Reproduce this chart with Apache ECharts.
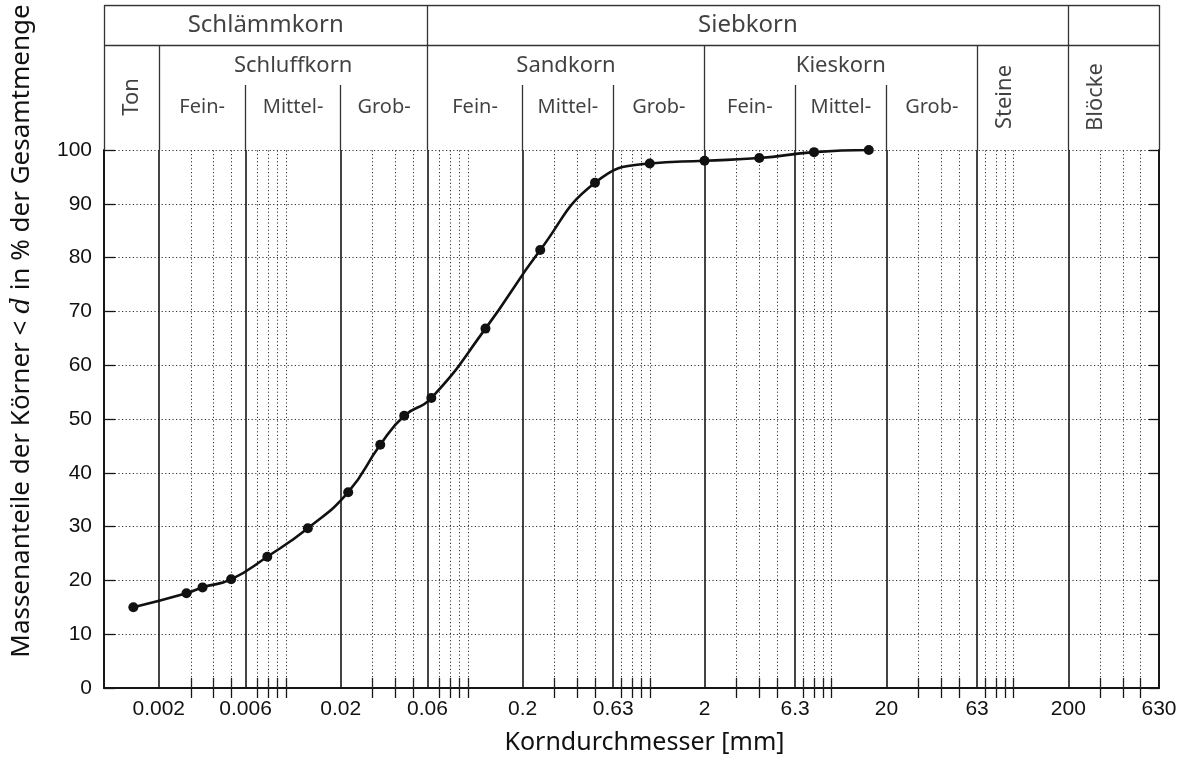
<!DOCTYPE html>
<html>
<head>
<meta charset="utf-8">
<script src="https://cdn.jsdelivr.net/npm/echarts@6/dist/echarts.min.js"></script>
<style>
  html, body { margin: 0; padding: 0; background: #fff; }
  #chart { width: 1191px; height: 762px; }
</style>
</head>
<body>
<div id="chart"></div>
<script>
// Sieve / hydrometer analysis: grain diameter d [mm] and mass passing [%]
const diameters = [0.00145, 0.00284, 0.00348, 0.005, 0.0079, 0.0132, 0.022, 0.033, 0.0447,
                   0.063, 0.125, 0.25, 0.5, 1, 2, 4, 8, 16];
const passing   = [15.0, 17.6, 18.7, 20.2, 24.4, 29.7, 36.4, 45.2, 50.6,
                   53.9, 66.8, 81.4, 93.9, 97.5, 98.0, 98.5, 99.6, 100];

// Axis range and labelled diameters
const dMin = 0.001;
const dMax = 630;
const xTickLabels = [0.002, 0.006, 0.02, 0.06, 0.2, 0.63, 2, 6.3, 20, 63, 200, 630];

// Class boundaries (solid) and intermediate log grid (dotted)
const classBounds = [0.002, 0.006, 0.02, 0.06, 0.2, 0.63, 2, 6.3, 20, 63, 200];
const minorLines = [0.003, 0.004, 0.005, 0.007, 0.008, 0.009, 0.01,
                    0.03, 0.04, 0.05, 0.07, 0.08, 0.09, 0.1,
                    0.3, 0.4, 0.5, 0.7, 0.8, 0.9, 1,
                    3, 4, 5, 7, 8, 9, 10,
                    30, 40, 50, 70, 80, 90, 100,
                    300, 400, 500];

// Header classification (DIN 4022)
const mainGroups = [
  { name: 'Schlämmkorn', from: 0.001, to: 0.06 },
  { name: 'Siebkorn', from: 0.06, to: 200 }
];
const soilGroups = [
  { name: 'Schluffkorn', bounds: [0.002, 0.006, 0.02, 0.06] },
  { name: 'Sandkorn', bounds: [0.06, 0.2, 0.63, 2] },
  { name: 'Kieskorn', bounds: [2, 6.3, 20, 63] }
];
const subNames = ['Fein-', 'Mittel-', 'Grob-'];
const singleClasses = [
  { name: 'Ton', from: 0.001, to: 0.002 },
  { name: 'Steine', from: 63, to: 200 },
  { name: 'Blöcke', from: 200, to: 630 }
];

// Header row levels (header y axis units)
const H_TOP = 29, H_ROW = 21, H_SUB = 13;

const SANS = '"Noto Sans", sans-serif';
const NUM = '"Liberation Sans", Arial, sans-serif';
const INK = '#161616';
const TEXT = '#111';

const geo = (a, b) => Math.sqrt(a * b);
const fmt = v => String(+(+v).toPrecision(4));

// ---- header lines ----
const headerSegs = [];
headerSegs.push([[dMin, H_TOP], [dMax, H_TOP]]);
headerSegs.push([[dMin, H_ROW], [dMax, H_ROW]]);
[dMin, 0.06, 200, dMax].forEach(x => headerSegs.push([[x, 0], [x, H_TOP]]));
[0.002, 2, 63].forEach(x => headerSegs.push([[x, 0], [x, H_ROW]]));
soilGroups.forEach(g => [g.bounds[1], g.bounds[2]].forEach(x => headerSegs.push([[x, 0], [x, H_SUB]])));

// ---- header texts ----
const headerTexts = [];
mainGroups.forEach(g => headerTexts.push({ name: g.name, value: [geo(g.from, g.to), 25], label: { fontSize: 24 } }));
soilGroups.forEach(g => {
  headerTexts.push({ name: g.name, value: [geo(g.bounds[0], g.bounds[3]), 16.8], label: { fontSize: 22 } });
  subNames.forEach((s, i) => headerTexts.push({
    name: s, value: [geo(g.bounds[i], g.bounds[i + 1]), 8.6], label: { fontSize: 20 }
  }));
});
singleClasses.forEach(c => headerTexts.push({
  name: c.name, value: [c.from * Math.SQRT2, 10.6], label: { fontSize: 22, rotate: 90 }
}));

const chart = echarts.init(document.getElementById('chart'), null, { renderer: 'canvas' });

const logAxisBase = {
  type: 'log', logBase: 10, min: dMin, max: dMax,
  splitLine: { show: false }, minorTick: { show: false }, minorSplitLine: { show: false }
};

chart.setOption({
  animation: false,
  backgroundColor: '#fff',
  grid: [
    { left: 104, right: 32, top: 150, bottom: 74, containLabel: false },
    { left: 104, right: 32, top: 5, height: 145, containLabel: false }
  ],
  xAxis: [
    Object.assign({}, logAxisBase, {
      gridIndex: 0, position: 'bottom',
      axisLine: { show: true, lineStyle: { color: INK, width: 2 } },
      axisTick: { show: true, inside: true, length: 10, customValues: minorLines, lineStyle: { color: INK, width: 1.3 } },
      axisLabel: {
        show: true, customValues: xTickLabels, formatter: fmt, margin: 11,
        fontFamily: NUM, fontSize: 21, color: TEXT
      },
      name: 'Korndurchmesser [mm]', nameLocation: 'middle', nameGap: 42,
      nameTextStyle: { fontFamily: SANS, fontSize: 25, color: TEXT, padding: [0, 0, 0, 26] }
    }),
    Object.assign({}, logAxisBase, {
      gridIndex: 0, position: 'top',
      axisLine: { show: true, lineStyle: { color: INK, width: 2 } },
      axisTick: { show: true, inside: true, length: 10, customValues: minorLines, lineStyle: { color: INK, width: 1.3 } },
      axisLabel: { show: false }
    }),
    Object.assign({}, logAxisBase, {
      gridIndex: 1, show: false
    })
  ],
  yAxis: [
    {
      type: 'value', gridIndex: 0, position: 'left', min: 0, max: 100, interval: 10,
      axisLine: { show: true, lineStyle: { color: INK, width: 2 } },
      axisTick: { show: true, inside: true, length: 11, lineStyle: { color: INK, width: 1.3 } },
      axisLabel: { margin: 12, fontFamily: NUM, fontSize: 21, color: TEXT },
      splitLine: { show: true, lineStyle: { color: '#333', width: 1, type: [1.2, 2.4] } }
    },
    {
      type: 'value', gridIndex: 0, position: 'right', min: 0, max: 100, interval: 10,
      axisLine: { show: true, lineStyle: { color: INK, width: 2 } },
      axisTick: { show: true, inside: true, length: 10, lineStyle: { color: INK, width: 1.3 } },
      axisLabel: { show: false },
      splitLine: { show: false }
    },
    { type: 'value', gridIndex: 1, min: 0, max: H_TOP, show: false }
  ],
  graphic: [{
    type: 'text',
    x: 22, y: 331,
    rotation: Math.PI / 2,
    style: {
      text: '{t|Massenanteile der Körner < }{m|d}{t| in % der Gesamtmenge}',
      align: 'center', verticalAlign: 'middle',
      rich: {
        t: { fontFamily: SANS, fontSize: 26, fill: TEXT },
        m: { fontFamily: '"DejaVu Serif", serif', fontStyle: 'italic', fontSize: 26, fill: TEXT }
      }
    }
  }],
  series: [
    {
      // dotted intermediate grid
      type: 'lines', coordinateSystem: 'cartesian2d', xAxisIndex: 0, yAxisIndex: 0,
      silent: true, z: 1,
      lineStyle: { color: '#333', width: 1, type: [1.2, 2.4], opacity: 1 },
      data: minorLines.map(x => ({ coords: [[x, 0], [x, 100]] }))
    },
    {
      // class boundaries
      type: 'lines', coordinateSystem: 'cartesian2d', xAxisIndex: 0, yAxisIndex: 0,
      silent: true, z: 2,
      lineStyle: { color: INK, width: 1.6, type: 'solid', opacity: 1 },
      data: classBounds.map(x => ({ coords: [[x, 0], [x, 100]] }))
    },
    {
      // header table
      type: 'lines', coordinateSystem: 'cartesian2d', xAxisIndex: 2, yAxisIndex: 2,
      silent: true, z: 2,
      lineStyle: { color: '#333', width: 1.3, type: 'solid', opacity: 1 },
      data: headerSegs.map(c => ({ coords: c }))
    },
    {
      type: 'scatter', xAxisIndex: 2, yAxisIndex: 2, silent: true, z: 3,
      symbolSize: 1, itemStyle: { color: 'rgba(0,0,0,0)' },
      label: {
        show: true, position: 'inside', formatter: '{b}',
        fontFamily: SANS, color: TEXT, align: 'center', verticalAlign: 'middle'
      },
      data: headerTexts
    },
    {
      name: 'Körnungslinie',
      type: 'line', xAxisIndex: 0, yAxisIndex: 0, z: 10,
      data: diameters.map((d, i) => [d, passing[i]]),
      smooth: 0.5,
      symbol: 'circle', symbolSize: 10,
      lineStyle: { color: '#111', width: 2.6 },
      itemStyle: { color: '#111' }
    }
  ]
});
</script>
</body>
</html>
